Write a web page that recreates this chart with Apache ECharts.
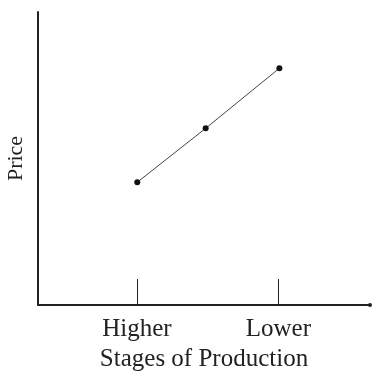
<!DOCTYPE html>
<html>
<head>
<meta charset="utf-8">
<script src="https://cdn.jsdelivr.net/npm/echarts@6/dist/echarts.min.js"></script>
<style>
  html, body { margin: 0; padding: 0; background: #fff; }
  #chart { width: 372px; height: 372px; }
</style>
</head>
<body>
<div id="chart"></div>
<script>
// stage positions on the x axis (0..100) and the tick labels there
const stageTicks = [29.8, 72.4]
const stageLabels = ['Higher', 'Lower']
// price curve points
const stageX = [29.9, 50.5, 72.7]
const priceY = [41.9, 60.3, 80.8]

const chart = echarts.init(document.getElementById('chart'))
const serif = '"Liberation Serif", "DejaVu Serif", serif'

chart.setOption({
  animation: false,
  grid: { left: 38, right: 2, top: 12, bottom: 67, outerBoundsMode: 'none' },
  xAxis: {
    type: 'value',
    min: 0,
    max: 100,
    name: 'Stages of Production',
    nameLocation: 'middle',
    nameGap: 38,
    nameTextStyle: { color: '#222', fontFamily: serif, fontSize: 25 },
    splitLine: { show: false },
    axisLine: {
      lineStyle: { color: '#222', width: 2 },
      symbol: ['none', 'circle'],
      symbolSize: [4, 4]
    },
    axisTick: {
      show: true,
      inside: true,
      length: 26,
      customValues: stageTicks,
      lineStyle: { color: '#222', width: 1 }
    },
    axisLabel: {
      customValues: stageTicks,
      margin: 12,
      color: '#222',
      fontFamily: serif,
      fontSize: 25,
      formatter: function (v) {
        const i = stageTicks.indexOf(v)
        return i >= 0 ? stageLabels[i] : ''
      }
    }
  },
  yAxis: {
    type: 'value',
    min: 0,
    max: 100,
    name: 'Price',
    nameLocation: 'middle',
    nameGap: 11,
    nameTextStyle: { color: '#222', fontFamily: serif, fontSize: 22 },
    splitLine: { show: false },
    axisLine: { show: true, lineStyle: { color: '#222', width: 2 } },
    axisTick: { show: false },
    axisLabel: { show: false }
  },
  series: [
    {
      type: 'line',
      data: stageX.map((x, i) => [x, priceY[i]]),
      symbol: 'circle',
      symbolSize: 6,
      itemStyle: { color: '#111' },
      lineStyle: { color: '#444', width: 1 }
    }
  ]
})
</script>
</body>
</html>
